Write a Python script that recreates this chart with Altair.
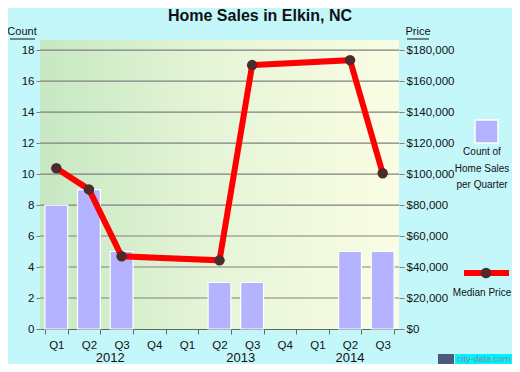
import altair as alt
import pandas as pd

quarters = ["2012 Q1", "2012 Q2", "2012 Q3", "2012 Q4",
            "2013 Q1", "2013 Q2", "2013 Q3", "2013 Q4",
            "2014 Q1", "2014 Q2", "2014 Q3"]
sales_count = [8, 9, 5, 0, 0, 3, 3, 0, 0, 5, 5]

price_quarters = ["2012 Q1", "2012 Q2", "2012 Q3", "2013 Q2", "2013 Q3", "2014 Q2", "2014 Q3"]
median_price = [103700, 90100, 46900, 44300, 170300, 173500, 100500]

year_labels = ["2012", "2013", "2014"]
year_anchor = ["2012 Q3", "2013 Q3", "2014 Q2"]
year_band = [0, 0, 0.5]

count_ticks = [0, 2, 4, 6, 8, 10, 12, 14, 16, 18]
price_ticks = [0, 20000, 40000, 60000, 80000, 100000, 120000, 140000, 160000, 180000]

W, H = 359, 289
FONT = "Liberation Sans"
BG = "#C4F7FA"
TXT = "#111111"
LS = 11.5
LEG = 10

bars_df = pd.DataFrame({"q": quarters, "count": sales_count})
bars_df = bars_df[bars_df["count"] > 0]
price_df = pd.DataFrame({"q": price_quarters, "price": median_price})
years_df = pd.DataFrame({"year": year_labels, "q": year_anchor, "band": year_band})
grid_df = pd.DataFrame({"count": count_ticks[1:]})

xscale = alt.Scale(domain=quarters, paddingInner=0.3, paddingOuter=0.15)
xaxis = alt.Axis(title=None, tickBand="extent", labelExpr="split(datum.label, ' ')[1]",
                 labelFont=FONT, labelFontSize=LS, labelColor=TXT, labelPadding=5,
                 domainColor="#666", tickColor="#666", tickSize=5, grid=False, labelAngle=0)
cscale = alt.Scale(domain=[0, 18.65], nice=False)
caxis = alt.Axis(title=None, values=count_ticks, grid=False, domain=False,
                 tickColor="#808080", tickSize=4, labelFont=FONT, labelFontSize=LS,
                 labelColor=TXT, labelPadding=2)
pscale = alt.Scale(domain=[0, 186500], nice=False)
paxis = alt.Axis(title=None, orient="right", values=price_ticks, format="$,.0f",
                 grid=False, domain=False, tickColor="#808080", tickSize=5,
                 labelFont=FONT, labelFontSize=LS, labelColor=TXT, labelPadding=2)

one = pd.DataFrame({"a": [0]})
base = alt.Chart(one)

bg_rect = base.mark_rect(fill=alt.LinearGradient(
    gradient="linear", x1=0, x2=1, y1=0, y2=0,
    stops=[alt.GradientStop(color="#C6E8C2", offset=0),
           alt.GradientStop(color="#E4F4D6", offset=0.45),
           alt.GradientStop(color="#FAFDE3", offset=1)])).encode(
    x=alt.value(0), x2=alt.value(W), y=alt.value(0), y2=alt.value(H))

grid = alt.Chart(grid_df).mark_rule(color="#808080", strokeWidth=1.2).encode(
    y=alt.Y("count:Q", scale=cscale, axis=caxis),
    x=alt.value(0), x2=alt.value(W))

bars = alt.Chart(bars_df).mark_bar(color="#B3B3FF", stroke="white", strokeWidth=1.2).encode(
    x=alt.X("q:N", scale=xscale, axis=xaxis, sort=quarters),
    y=alt.Y("count:Q", scale=cscale, axis=caxis),
)

yr = alt.Chart(years_df)
years0 = yr.transform_filter("datum.band == 0").mark_text(
    font=FONT, fontSize=13, color=TXT, baseline="middle").encode(
    x=alt.X("q:N", scale=xscale, sort=quarters, bandPosition=0),
    y=alt.value(H + 29), text="year:N")
years1 = yr.transform_filter("datum.band == 0.5").mark_text(
    font=FONT, fontSize=13, color=TXT, baseline="middle").encode(
    x=alt.X("q:N", scale=xscale, sort=quarters, bandPosition=0.5),
    y=alt.value(H + 29), text="year:N")

line = alt.Chart(price_df).mark_line(color="#FF0000", strokeWidth=6).encode(
    x=alt.X("q:N", scale=xscale, sort=quarters),
    y=alt.Y("price:Q", scale=pscale, axis=paxis),
)
pts = alt.Chart(price_df).mark_point(filled=True, color="#4F2A2A", size=110, opacity=1).encode(
    x=alt.X("q:N", scale=xscale, sort=quarters),
    y=alt.Y("price:Q", scale=pscale, axis=paxis),
)

title = base.mark_text(text="Home Sales in Elkin, NC", font=FONT, fontSize=16,
                       fontWeight="bold", color=TXT, baseline="alphabetic").encode(
    x=alt.value(220), y=alt.value(-19))
count_lbl = base.mark_text(text="Count", font=FONT, fontSize=11, color=TXT).encode(
    x=alt.value(-18), y=alt.value(-8))
count_ul = base.mark_rule(color=TXT, strokeWidth=1).encode(
    x=alt.value(-30), x2=alt.value(-5), y=alt.value(-1))
price_lbl = base.mark_text(text="Price", font=FONT, fontSize=11, color=TXT).encode(
    x=alt.value(378), y=alt.value(-8))
price_ul = base.mark_rule(color=TXT, strokeWidth=1).encode(
    x=alt.value(367), x2=alt.value(389), y=alt.value(-1))

leg_sq = base.mark_rect(color="#B3B3FF", stroke="white", strokeWidth=1.5).encode(
    x=alt.value(435), x2=alt.value(458), y=alt.value(80), y2=alt.value(103))
leg_txt1 = base.mark_text(text=["Count of", "Home Sales", "per Quarter"], font=FONT,
                          fontSize=LEG, color=TXT, lineHeight=16.5, baseline="top").encode(
    x=alt.value(442), y=alt.value(107))
leg_line = base.mark_rule(color="#FF0000", strokeWidth=6).encode(
    x=alt.value(424), x2=alt.value(469), y=alt.value(233))
leg_dot = base.mark_point(filled=True, color="#4F2A2A", size=110, opacity=1).encode(
    x=alt.value(446), y=alt.value(233))
leg_txt2 = base.mark_text(text="Median Price", font=FONT, fontSize=LEG, color=TXT).encode(
    x=alt.value(442), y=alt.value(253))
wm_box = base.mark_rect(color="#00F4FF").encode(
    x=alt.value(415), x2=alt.value(480), y=alt.value(314), y2=alt.value(334))
wm_img = base.mark_rect(color="#4A5A7A").encode(
    x=alt.value(398), x2=alt.value(414), y=alt.value(314), y2=alt.value(334))
wm = base.mark_text(text="city-data.com", font=FONT, fontSize=9, color="#7C8CA0",
                    align="left", baseline="middle").encode(x=alt.value(417), y=alt.value(319))

left = alt.layer(bg_rect, grid, bars, years0, years1)
right = alt.layer(line, pts)
chart = alt.layer(left, right, title, count_lbl, count_ul, price_lbl, price_ul,
                  leg_sq, leg_txt1, leg_line, leg_dot, leg_txt2,
                  wm_box, wm_img, wm).resolve_scale(
    y="independent").properties(
    width=W, height=H, background=BG,
    padding={"left": 32, "top": 32, "right": 113, "bottom": 35},
    autosize=alt.AutoSizeParams(type="none"),
).configure_view(stroke=None)

chart.save("out.html", embed_options={"renderer": "svg", "actions": False})
